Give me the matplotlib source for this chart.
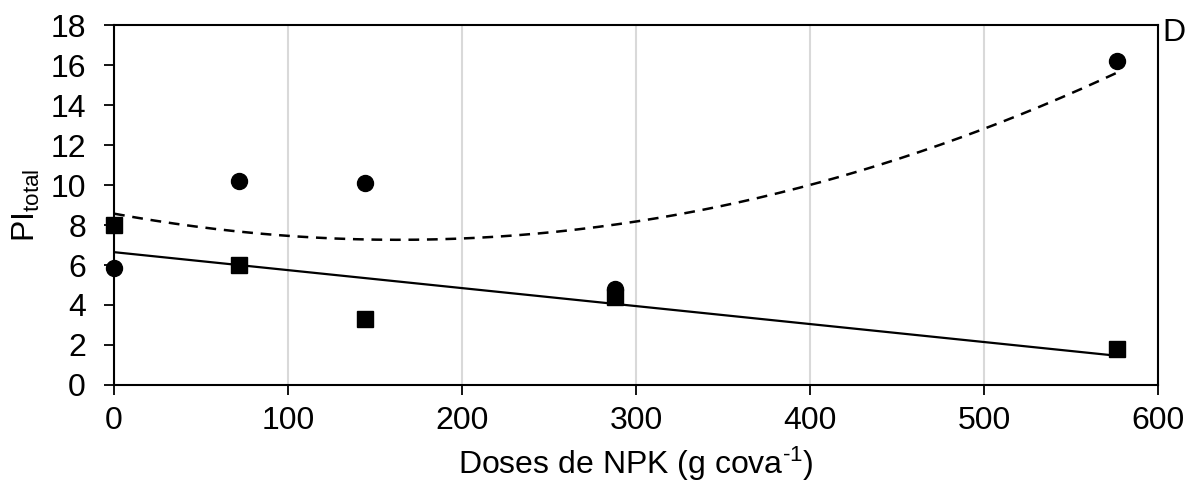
import numpy as np
import matplotlib
matplotlib.use("Agg")
import matplotlib.pyplot as plt

plt.rcParams['font.family'] = ['Liberation Sans', 'DejaVu Sans']
plt.rcParams['mathtext.fontset'] = 'custom'
plt.rcParams['mathtext.rm'] = 'Liberation Sans'
plt.rcParams['mathtext.it'] = 'Liberation Sans'
plt.rcParams['mathtext.default'] = 'regular'

# NPK doses (g per planting hole)
doses = [0, 72, 144, 288, 576]
# PI total, two treatments
pi_circles = [5.85, 10.2, 10.1, 4.8, 16.2]
pi_squares = [8.0, 6.0, 3.3, 4.4, 1.8]

x_ticks = [0, 100, 200, 300, 400, 500, 600]
y_ticks = [0, 2, 4, 6, 8, 10, 12, 14, 16, 18]

fig = plt.figure(figsize=(11.88, 4.83), dpi=100)
ax = fig.add_axes([0.096, 0.203, 0.879, 0.745])

# trend lines fitted to each series
xs = np.linspace(0, 576, 200)
quad = np.polyfit(doses, pi_circles, 2)
lin = np.polyfit(doses, pi_squares, 1)
ax.plot(xs, np.polyval(quad, xs), color='black', lw=1.8, ls=(0, (4.3, 3.1)), zorder=2)
ax.plot(xs, np.polyval(lin, xs), color='black', lw=1.6, ls='-', zorder=2)

ax.plot(doses, pi_squares, ls='none', marker='s', ms=11.3, color='black', zorder=3, clip_on=False)
ax.plot(doses, pi_circles, ls='none', marker='o', ms=11.5, color='black', zorder=3, clip_on=False)

ax.set_xlim(0, 600)
ax.set_ylim(0, 18)
ax.set_xticks(x_ticks)
ax.set_yticks(y_ticks)
ax.xaxis.grid(True, color='#d9d9d9', lw=1.5)
ax.set_axisbelow(True)
ax.tick_params(direction='out', length=7.2, width=1.3, labelsize=23, colors='black')
ax.tick_params(axis='x', pad=8)
ax.tick_params(axis='y', pad=13)
for s in ax.spines.values():
    s.set_linewidth(1.5)
    s.set_color('black')

ax.set_xlabel('Doses de NPK (g cova$^{\u2010 1}$)', fontsize=23, labelpad=6)
ax.set_ylabel('PI$_{total}$', fontsize=23, labelpad=6)

fig.text(1162 / 1188, 1 - 41 / 483, 'D', fontsize=23, ha='left', va='baseline')

fig.savefig('out.png', dpi=100)
